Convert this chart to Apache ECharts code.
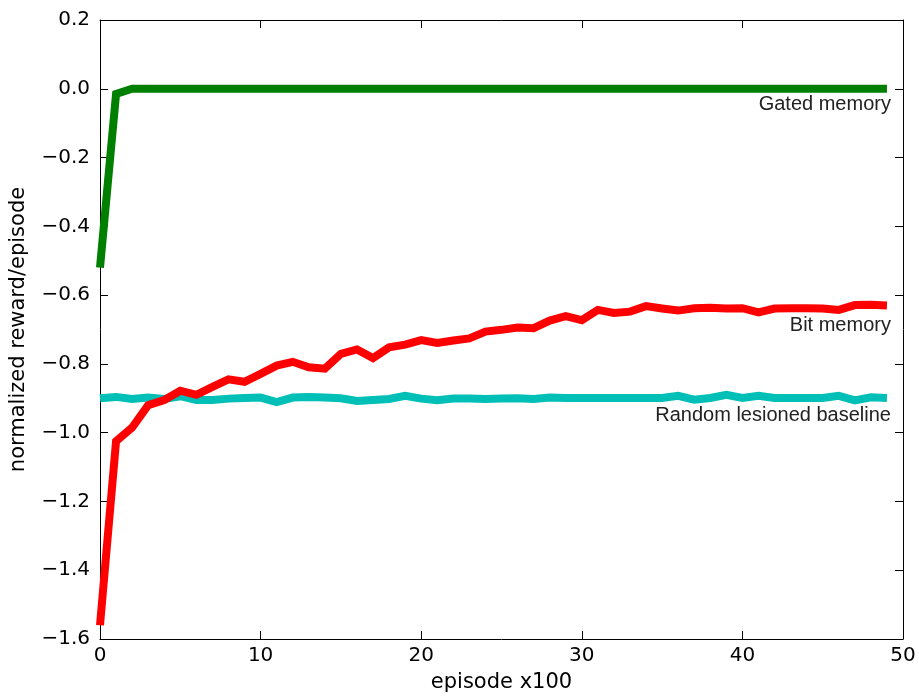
<!DOCTYPE html>
<html>
<head>
<meta charset="utf-8">
<script src="https://cdn.jsdelivr.net/npm/echarts@6/dist/echarts.min.js"></script>
<style>
  html, body { margin: 0; padding: 0; background: #fff; }
  #chart { width: 919px; height: 698px; }
</style>
</head>
<body>
<div id="chart"></div>
<script>
// episode x100 (0..49)
var episodes = [];
for (var i = 0; i < 50; i++) episodes.push(i);

var gatedMemory = [-0.52, -0.015, 0, 0, 0, 0, 0, 0, 0, 0,
  0, 0, 0, 0, 0, 0, 0, 0, 0, 0,
  0, 0, 0, 0, 0, 0, 0, 0, 0, 0,
  0, 0, 0, 0, 0, 0, 0, 0, 0, 0,
  0, 0, 0, 0, 0, 0, 0, 0, 0, 0];

var bitMemory = [-1.56, -1.025, -0.985, -0.92, -0.905, -0.878, -0.89, -0.867, -0.845, -0.852,
  -0.829, -0.805, -0.794, -0.81, -0.814, -0.771, -0.758, -0.783, -0.752, -0.744,
  -0.731, -0.739, -0.732, -0.726, -0.706, -0.701, -0.694, -0.696, -0.674, -0.661,
  -0.673, -0.643, -0.652, -0.648, -0.632, -0.639, -0.645, -0.638, -0.637, -0.639,
  -0.638, -0.65, -0.639, -0.638, -0.638, -0.639, -0.643, -0.629, -0.628, -0.63];

var randomBaseline = [-0.9, -0.896, -0.902, -0.898, -0.902, -0.894, -0.905, -0.905, -0.901, -0.899,
  -0.898, -0.911, -0.898, -0.896, -0.898, -0.9, -0.908, -0.905, -0.902, -0.893,
  -0.901, -0.906, -0.901, -0.901, -0.902, -0.901, -0.9, -0.902, -0.898, -0.899,
  -0.899, -0.899, -0.899, -0.899, -0.899, -0.899, -0.893, -0.904, -0.899, -0.89,
  -0.899, -0.893, -0.899, -0.899, -0.899, -0.899, -0.893, -0.906, -0.897, -0.899];

var seriesNames = ["Gated memory", "Bit memory", "Random lesioned baseline"];
var seriesColors = ["#007f00", "#ff0000", "#00bfb6"];

function pairs(ys) {
  return ys.map(function (y, i) { return [episodes[i], y]; });
}

var myChart = echarts.init(document.getElementById("chart"));

var tickFont = { fontFamily: "DejaVu Sans", fontSize: 20, color: "#000" };
var nameFont = { fontFamily: "DejaVu Sans", fontSize: 21, color: "#000" };

function minusFmt(v) {
  return (v < 0 ? "\u2212" : "") + Math.abs(v).toFixed(1);
}

var option = {
  animation: false,
  backgroundColor: "#fff",
  grid: { left: 99, right: 16, top: 20, bottom: 59, containLabel: false },
  xAxis: [{
    type: "value", min: 0, max: 50, interval: 10,
    name: "episode x100", nameLocation: "middle", nameGap: 33,
    nameTextStyle: nameFont,
    axisLine: { onZero: false, lineStyle: { color: "#000", width: 1 } },
    axisTick: { inside: true, length: 8, lineStyle: { color: "#000" } },
    axisLabel: Object.assign({ margin: 7 }, tickFont),
    splitLine: { show: false }
  }, {
    type: "value", min: 0, max: 50, interval: 10, position: "top",
    axisLine: { onZero: false, lineStyle: { color: "#000", width: 1 } },
    axisTick: { inside: true, length: 8, lineStyle: { color: "#000" } },
    axisLabel: { show: false },
    splitLine: { show: false }
  }],
  yAxis: [{
    type: "value", min: -1.6, max: 0.2, interval: 0.2,
    name: "normalized reward/episode", nameLocation: "middle", nameGap: 71,
    nameTextStyle: nameFont,
    axisLine: { show: true, onZero: false, lineStyle: { color: "#000", width: 1 } },
    axisTick: { show: true, inside: true, length: 8, lineStyle: { color: "#000" } },
    axisLabel: Object.assign({ margin: 10, formatter: minusFmt }, tickFont),
    splitLine: { show: false }
  }, {
    type: "value", min: -1.6, max: 0.2, interval: 0.2, position: "right",
    axisLine: { show: true, onZero: false, lineStyle: { color: "#000", width: 1 } },
    axisTick: { show: true, inside: true, length: 8, lineStyle: { color: "#000" } },
    axisLabel: { show: false },
    splitLine: { show: false }
  }],
  series: [randomBaseline, bitMemory, gatedMemory].map(function (d, k) {
    var idx = 2 - k;
    return {
      name: seriesNames[idx],
      type: "line",
      data: pairs(d),
      showSymbol: false,
      symbol: "none",
      lineStyle: { color: seriesColors[idx], width: 8, join: "miter" },
      z: 2 + k
    };
  })
};

myChart.setOption(option);

// text labels placed under each line's last point, via the chart's own scale
var lastVals = [gatedMemory[49], bitMemory[49], randomBaseline[49]];
var labelOffsets = [16, 20, 18];
var graphics = seriesNames.map(function (name, k) {
  var p = myChart.convertToPixel({ gridIndex: 0 }, [episodes[49], lastVals[k]]);
  return {
    type: "text",
    x: p[0] + 4,
    y: p[1] + labelOffsets[k],
    style: {
      text: name,
      fontFamily: "Liberation Sans",
      fontSize: 20,
      fill: "#222",
      align: "right",
      verticalAlign: "middle"
    }
  };
});
myChart.setOption({ graphic: graphics });
</script>
</body>
</html>
